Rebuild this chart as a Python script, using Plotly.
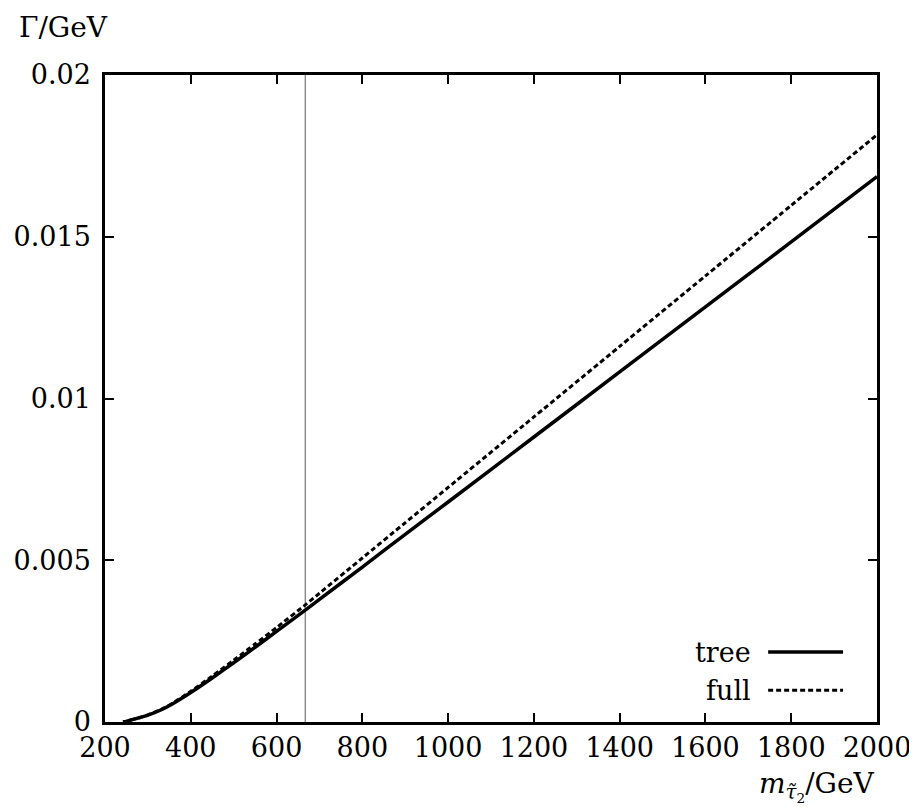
import plotly.graph_objects as go

# Data
mass = [242, 250, 260, 280, 300, 330, 360, 400, 450, 500, 550, 600, 667, 700,
        800, 900, 1000, 1200, 1400, 1600, 1800, 2000]
gamma_tree = [0.0, 0.00002, 0.00006, 0.00013, 0.00021, 0.00037, 0.00058, 0.00091,
              0.00136, 0.00183, 0.00231, 0.0028, 0.00346, 0.00379, 0.00479,
              0.0058, 0.0068, 0.00881, 0.01082, 0.01283, 0.01484, 0.01686]
gamma_full = [0.0, 0.00002, 0.00006, 0.000135, 0.00022, 0.000385, 0.0006, 0.00095,
              0.00142, 0.00191, 0.00241, 0.00292, 0.00362, 0.00398, 0.00507,
              0.00616, 0.00725, 0.00943, 0.01161, 0.01379, 0.01597, 0.01815]
threshold_mass = 667
x_ticks = [200, 400, 600, 800, 1000, 1200, 1400, 1600, 1800, 2000]
y_ticks = [0, 0.005, 0.01, 0.015, 0.02]
y_tick_labels = ["0", "0.005", "0.01", "0.015", "0.02"]

FONT = "DejaVu Serif"
FS = 27
FS_TITLE = 28
fig = go.Figure()
fig.add_trace(go.Scatter(x=mass, y=gamma_tree, mode="lines", name="tree",
                         line=dict(color="black", width=3.5, shape="spline", smoothing=0.6),
                         showlegend=False))
fig.add_trace(go.Scatter(x=mass, y=gamma_full, mode="lines", name="full",
                         line=dict(color="black", width=3, dash="5px,3px", shape="spline",
                                   smoothing=0.6),
                         showlegend=False))

fig.add_shape(type="line", xref="x", yref="paper", x0=threshold_mass, x1=threshold_mass,
              y0=0, y1=1, line=dict(color="#808080", width=1.3), layer="below")

# Legend (text on the left, sample on the right)
legend_rows = [("tree", None, 3.5, 0.108), ("full", "5px,3px", 3, 0.049)]
for label, dash, w, yp in legend_rows:
    fig.add_annotation(text=label, xref="paper", yref="paper", x=0.84, y=yp,
                       xanchor="right", yanchor="middle", showarrow=False,
                       font=dict(family=FONT, size=FS, color="black"))
    fig.add_shape(type="line", xref="paper", yref="paper", x0=0.859, x1=0.956,
                  y0=yp, y1=yp, line=dict(color="black", width=w, dash=dash))

fig.add_annotation(text="Γ/GeV", xref="paper", yref="paper", x=-0.114, y=1.074,
                   xanchor="left", yanchor="middle", showarrow=False,
                   font=dict(family=FONT, size=FS_TITLE, color="black"))
fig.add_annotation(text="<i>m</i><sub><i>τ̃</i><sub>2</sub></sub>/GeV", xref="paper",
                   yref="paper", x=1.0, y=-0.1, xanchor="right", yanchor="middle",
                   showarrow=False, font=dict(family=FONT, size=FS_TITLE, color="black"))

axis_common = dict(showgrid=False, zeroline=False, showline=True, linecolor="black",
                   linewidth=2.5, mirror="ticks", ticks="inside", ticklen=9,
                   tickwidth=2, tickcolor="black", automargin=False,
                   tickfont=dict(family=FONT, size=FS, color="black"))
fig.update_xaxes(range=[200, 2000], tickvals=x_ticks, **axis_common)
fig.update_yaxes(range=[0, 0.02], tickvals=y_ticks, ticktext=y_tick_labels,
                 ticklabelstandoff=6, **axis_common)

# page body adds an 8px offset; compensate so the plot area lands where the reference has it
fig.update_layout(width=909, height=804, margin=dict(l=97, r=40, t=67, b=90),
                  plot_bgcolor="white", paper_bgcolor="white",
                  font=dict(family=FONT, size=FS, color="black"))
fig.write_html("out.html")
